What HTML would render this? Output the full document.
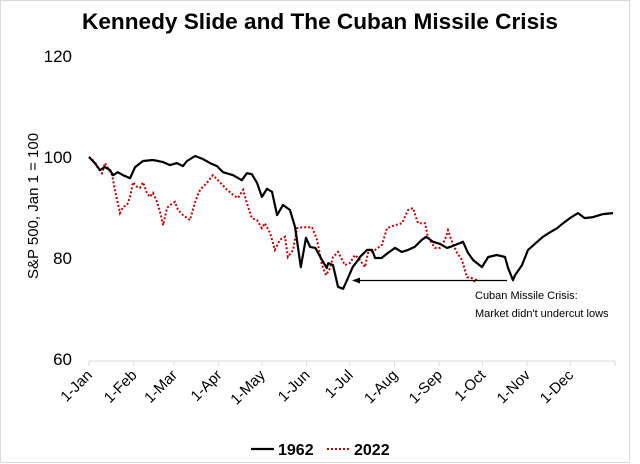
<!DOCTYPE html>
<html><head><meta charset="utf-8"><style>
body{margin:0;background:#fff}
svg{display:block;font-family:"Liberation Sans",sans-serif}
</style></head><body>
<svg id="chart" width="640" height="464">
<rect x="0.5" y="0.5" width="629" height="462" fill="#fff" stroke="#d9d9d9"/>
<text x="320" y="29" text-anchor="middle" font-size="22" font-weight="bold" textLength="476" lengthAdjust="spacingAndGlyphs">Kennedy Slide and The Cuban Missile Crisis</text>
<text transform="translate(38,206) rotate(-90)" text-anchor="middle" font-size="15">S&amp;P 500, Jan 1 = 100</text>
<g id="yticks"></g><g id="xticks"></g><g id="series"></g>
<line x1="507" y1="280.5" x2="358" y2="280.5" stroke="#000" stroke-width="1.3"/>
<polygon points="352,280.5 360,277.5 360,283.5" fill="#000"/>
<text x="475" y="299" font-size="11">Cuban Missile Crisis:</text>
<text x="475" y="317" font-size="11">Market didn't undercut lows</text>
<line x1="251" y1="449" x2="274" y2="449" stroke="#000" stroke-width="2.2"/>
<text x="278" y="455" font-size="16" font-weight="bold">1962</text>
<line x1="327" y1="449" x2="350" y2="449" stroke="#c00000" stroke-width="2" stroke-dasharray="2,2"/>
<text x="354" y="455" font-size="16" font-weight="bold">2022</text>
</svg>
<script>
const yTicks=[60,80,100,120];
const monthLabels=["1-Jan","1-Feb","1-Mar","1-Apr","1-May","1-Jun","1-Jul","1-Aug","1-Sep","1-Oct","1-Nov","1-Dec"];
const monthStarts=[0,31,59,90,120,151,181,212,243,273,304,334];
const days1962=[0,4,7.6,11,14.6,16.7,20,23.6,28.5,32,37.5,44.4,51.4,56.2,61,65.2,68,73.6,79,84,88.8,93,100,106,109.6,113,116.6,120,123.5,127,130.5,134.6,139.5,143,147,150.6,153.4,157,161.7,165,166,169.3,172.8,176.3,179,183,186.7,188,193,196.4,198.5,203,207.5,212.4,217,221.4,226,231,234,238.7,243.6,248.4,252.6,259.5,263,266.5,272.7,277,283,288.7,290.8,294.2,295.6,300.5,304.6,311,315,320,324.8,329,333.8,339.3,344,349.8,356.7,363.6];
const vals1962=[100,98.8,97.4,98,97.4,96.4,97,96.4,95.8,98,99.2,99.4,99,98.4,98.8,98.2,99.2,100.2,99.6,98.8,98.2,97,96.4,95.4,96.8,96.6,94.9,92.1,93.7,93.1,88.5,90.5,89.5,86.1,78.2,84,82.2,82,79.6,78,79,78.6,74.3,73.9,75.6,78.2,79.6,80.2,81.6,81.6,80,80,81,82,81.2,81.6,82.2,83.6,84.2,83.2,82.8,82,82.4,83.2,81,79.6,78.2,80.2,80.6,80.2,78,75.6,76.6,78.6,81.6,83.2,84.2,85.1,85.9,86.9,87.9,88.9,87.9,88.1,88.7,88.9];
const days2022=[0,4.2,6.2,9,11.1,13.2,16,18,21.5,23.6,26.4,28.5,30.5,33.3,35.4,37.5,40.2,42.3,44.4,47.2,49.3,51.4,54.1,56.2,59.7,61.8,65.2,68,70.1,73.6,77,81.9,86,90.9,95.8,100,103.4,106.9,109.6,113,116.6,120,122,125.6,129,132.5,136,138,141.6,144.3,147.8,154.8,158.2,161.7,164.5,167.2,169.3,172.8,177.6,181,184.6,188,191.5,193.6,198.5,203.3,206.8,212.4,217.2,221.4,224.8,228.3,233.2,235.2,240,243.6,247,249.1,251.9,255.4,258.8,262.3,265.8,267.9,269.3];
const vals2022=[100,99,97.8,96.8,98.8,97.8,96.4,93.5,88.9,90.1,90.5,92.1,95,94.1,93.9,95,92.9,92.1,92.9,91.1,89.1,86.5,89.9,90.5,91.1,89.5,88.5,87.9,87.5,91.1,93.5,94.9,96.4,95,93.5,92.5,91.9,93.5,90.9,87.9,87.5,85.9,86.9,85,81.6,83.6,84.2,80.2,81.6,85.9,86.1,86.1,83.6,78.6,76.6,78,80.2,81.2,78.6,79,80.6,79.6,78.2,81,81.6,82.6,85.9,86.5,86.9,89.5,89.9,86.9,86.9,84.2,82,82,83.6,85.5,83.2,81,79.6,76.2,76,75.2,76.2];

const NS="http://www.w3.org/2000/svg";
const x0=89,x1=615,yBase=359,yTop=56;
function xs(d){return x0+d*(x1-x0)/365;}
function ys(v){return yBase-(v-60)*(yBase-yTop)/60;}
function mk(tag,attrs,parent){const e=document.createElementNS(NS,tag);for(const k in attrs)e.setAttribute(k,attrs[k]);parent.appendChild(e);return e;}

const yg=document.getElementById('yticks');
yTicks.forEach(v=>{
  const t=mk('text',{x:72,y:ys(v)+6,'text-anchor':'end','font-size':17},yg);
  
  
  t.textContent=v;
});
const xg=document.getElementById('xticks');
const ax=mk('line',{x1:x0,y1:361,x2:x1,y2:361,stroke:'#d9d9d9','stroke-width':1},xg);


monthStarts.concat([365]).forEach(d=>{
  const tk=mk('line',{x1:xs(d),y1:361,x2:xs(d),y2:366,stroke:'#d9d9d9'},xg);
  
  
});
monthLabels.forEach((m,i)=>{
  const px=xs(monthStarts[i])+4,py=376;
  const t=mk('text',{x:px,y:py,'text-anchor':'end','font-size':15,transform:`rotate(-45 ${px} ${py})`},xg);
  
  
  t.textContent=m;
});
const sg=document.getElementById('series');
function pts(d,v){return d.map((dd,i)=>xs(dd).toFixed(1)+','+ys(v[i]).toFixed(1)).join(' ');}
const l2=mk('polyline',{points:pts(days2022,vals2022),fill:'none',stroke:'#c00000','stroke-width':2,'stroke-dasharray':'2,2'},sg);


const l1=mk('polyline',{points:pts(days1962,vals1962),fill:'none',stroke:'#000','stroke-width':2.2,'stroke-linejoin':'round'},sg);


</script>
</body></html>
